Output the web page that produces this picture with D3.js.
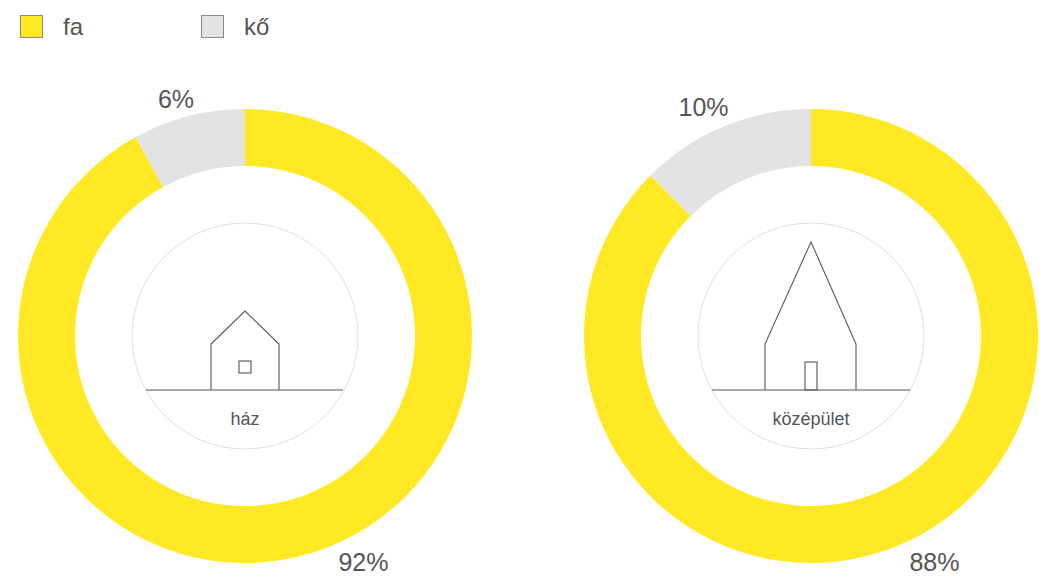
<!DOCTYPE html>
<html lang="hu">
<head>
<meta charset="UTF-8">
<title>fa / kő</title>
<script src="https://cdn.jsdelivr.net/npm/d3@7"></script>
<style>
html,body{margin:0;padding:0;background:#fff;overflow:hidden}
svg{display:block}
text{font-family:"Liberation Sans",Arial,sans-serif;fill:#555}
</style>
</head>
<body>
<div id="root"></div>
<script>
// slice sizes as measured on the picture, the printed labels differ a bit from them
const buildings = ["ház", "középület"]
const faValues = [92, 87.5]
const koValues = [8, 12.5]
const faLabels = ["92%", "88%"]
const koLabels = ["6%", "10%"]
const legendNames = ["fa", "kő"]
const legendColors = ["#ffe925", "#e3e3e3"]

const width = 1039, height = 576
const cy = 336, outerR = 227, innerR = 170, iconR = 113

const svg = d3.select("#root").append("svg").attr("width", width).attr("height", height)

// donut centres
const x = d3.scalePoint().domain(buildings).range([245, 811])
const angle = d3.scaleLinear().domain([0, 100]).range([0, 2 * Math.PI])
const arc = d3.arc().innerRadius(innerR).outerRadius(outerR)

// legend
const legendX = d3.scalePoint().domain(legendNames).range([20, 201])
const legend = svg.selectAll("g.legend").data(legendNames).enter().append("g")
    .attr("class", "legend")
    .attr("transform", d => "translate(" + legendX(d) + ",15)")
legend.append("rect")
    .attr("x", 0.5).attr("y", 0.5).attr("width", 22).attr("height", 22)
    .attr("fill", (d, i) => legendColors[i])
    .attr("stroke", "#8a8a80").attr("stroke-width", 1)
legend.append("text").attr("x", 43).attr("y", 20).style("font-size", "24px").text(d => d)

// house outlines, relative to the donut centre
const houseShapes = {
    "ház": {
        body: [[-34, 54], [-34, 8], [0, -25], [34, 8], [34, 54]],
        hole: [-6, 25, 12, 12],
        ground: [-99, 98]
    },
    "középület": {
        body: [[-46, 54], [-46, 8], [0, -94], [45, 8], [45, 54]],
        hole: [-6, 26, 12, 28],
        ground: [-99, 99]
    }
}

const donut = svg.selectAll("g.donut").data(buildings).enter().append("g")
    .attr("class", "donut")
    .attr("transform", d => "translate(" + x(d) + "," + cy + ")")

donut.append("path")
    .attr("fill", legendColors[0])
    .attr("d", (d, i) => arc({startAngle: angle(0), endAngle: angle(faValues[i])}))
donut.append("path")
    .attr("fill", legendColors[1])
    .attr("d", (d, i) => arc({startAngle: angle(faValues[i]), endAngle: angle(faValues[i] + koValues[i])}))

donut.append("circle").attr("r", iconR)
    .attr("fill", "none").attr("stroke", "#dedede").attr("stroke-width", 1)

donut.append("path")
    .attr("fill", "none").attr("stroke", "#555").attr("stroke-width", 1.1)
    .attr("d", d => d3.line()(houseShapes[d].body))
donut.append("rect")
    .attr("x", d => houseShapes[d].hole[0]).attr("y", d => houseShapes[d].hole[1])
    .attr("width", d => houseShapes[d].hole[2]).attr("height", d => houseShapes[d].hole[3])
    .attr("fill", "none").attr("stroke", "#555").attr("stroke-width", 1.1)
donut.append("line")
    .attr("x1", d => houseShapes[d].ground[0]).attr("x2", d => houseShapes[d].ground[1])
    .attr("y1", 54).attr("y2", 54)
    .attr("stroke", "#555").attr("stroke-width", 1.1)

donut.append("text").attr("y", 89).attr("text-anchor", "middle")
    .style("font-size", "18px").text(d => d)

// percent labels
const koOffset = [[-69, -228], [-107.5, -220]]
const faOffset = [[118.5, 235], [123.5, 235]]
donut.append("text").attr("x", (d, i) => koOffset[i][0]).attr("y", (d, i) => koOffset[i][1])
    .attr("text-anchor", "middle").style("font-size", "25px")
    .text((d, i) => koLabels[i])
donut.append("text").attr("x", (d, i) => faOffset[i][0]).attr("y", (d, i) => faOffset[i][1])
    .attr("text-anchor", "middle").style("font-size", "25px")
    .text((d, i) => faLabels[i])
</script>
</body>
</html>
